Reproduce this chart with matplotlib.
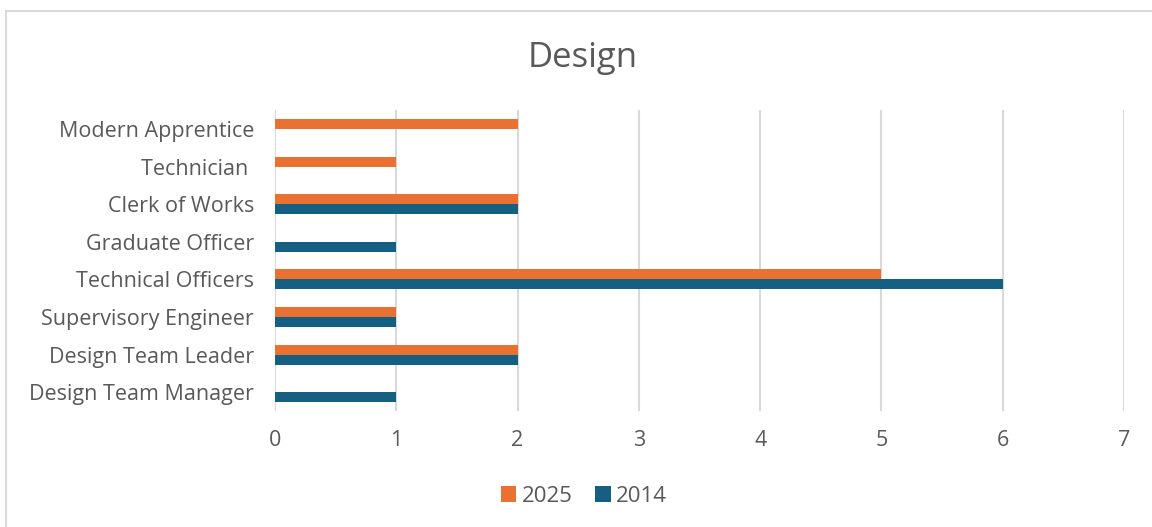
import matplotlib.pyplot as plt
import numpy as np
from matplotlib.patches import Rectangle

categories = ["Modern Apprentice", "Technician ", "Clerk of Works", "Graduate Officer",
              "Technical Officers", "Supervisory Engineer", "Design Team Leader",
              "Design Team Manager"]
values_2025 = [2, 1, 2, 0, 5, 1, 2, 0]
values_2014 = [0, 0, 2, 1, 6, 1, 2, 1]

orange = "#E97132"
blue = "#156082"
text_col = "#595959"
grid_col = "#D9D9D9"

plt.rcParams["font.family"] = ["Open Sans", "DejaVu Sans"]

fig = plt.figure(figsize=(11.52, 5.27), dpi=100)
ax = fig.add_axes([0.2387, 0.2201, 0.737, 0.571])

y = np.arange(len(categories))
h = 0.266
ax.barh(y - h / 2, values_2025, height=h, color=orange, label="2025", zorder=3)
ax.barh(y + h / 2, values_2014, height=h, color=blue, label="2014", zorder=3)

ax.set_ylim(len(categories) - 0.5, -0.5)
ax.set_xlim(0, 7)
ax.set_xticks(range(0, 8))
ax.set_yticks(y)
ax.set_yticklabels(categories)
ax.tick_params(axis="both", length=0, labelcolor=text_col, labelsize=15.5)
ax.tick_params(axis="y", pad=15)
ax.tick_params(axis="x", pad=14)
ax.grid(axis="x", color=grid_col, linewidth=1.5, zorder=0)
for s in ax.spines.values():
    s.set_visible(False)

fig.text(0.506, 0.889, "Design", ha="center", va="center", fontsize=25, color=text_col)

handles, labels = ax.get_legend_handles_labels()
fig.legend(handles, labels, loc="center", bbox_to_anchor=(0.507, 0.058), ncol=2,
           frameon=False, fontsize=16, labelcolor=text_col, handlelength=0.7,
           handleheight=0.7, handletextpad=0.25, columnspacing=1.0)

fig.patches.append(Rectangle((6 / 1152, -0.1), 1.2, 1 - 11 / 527 + 0.1, transform=fig.transFigure,
                             fill=False, edgecolor=grid_col, linewidth=1.5))

fig.savefig("out.png", dpi=100)
